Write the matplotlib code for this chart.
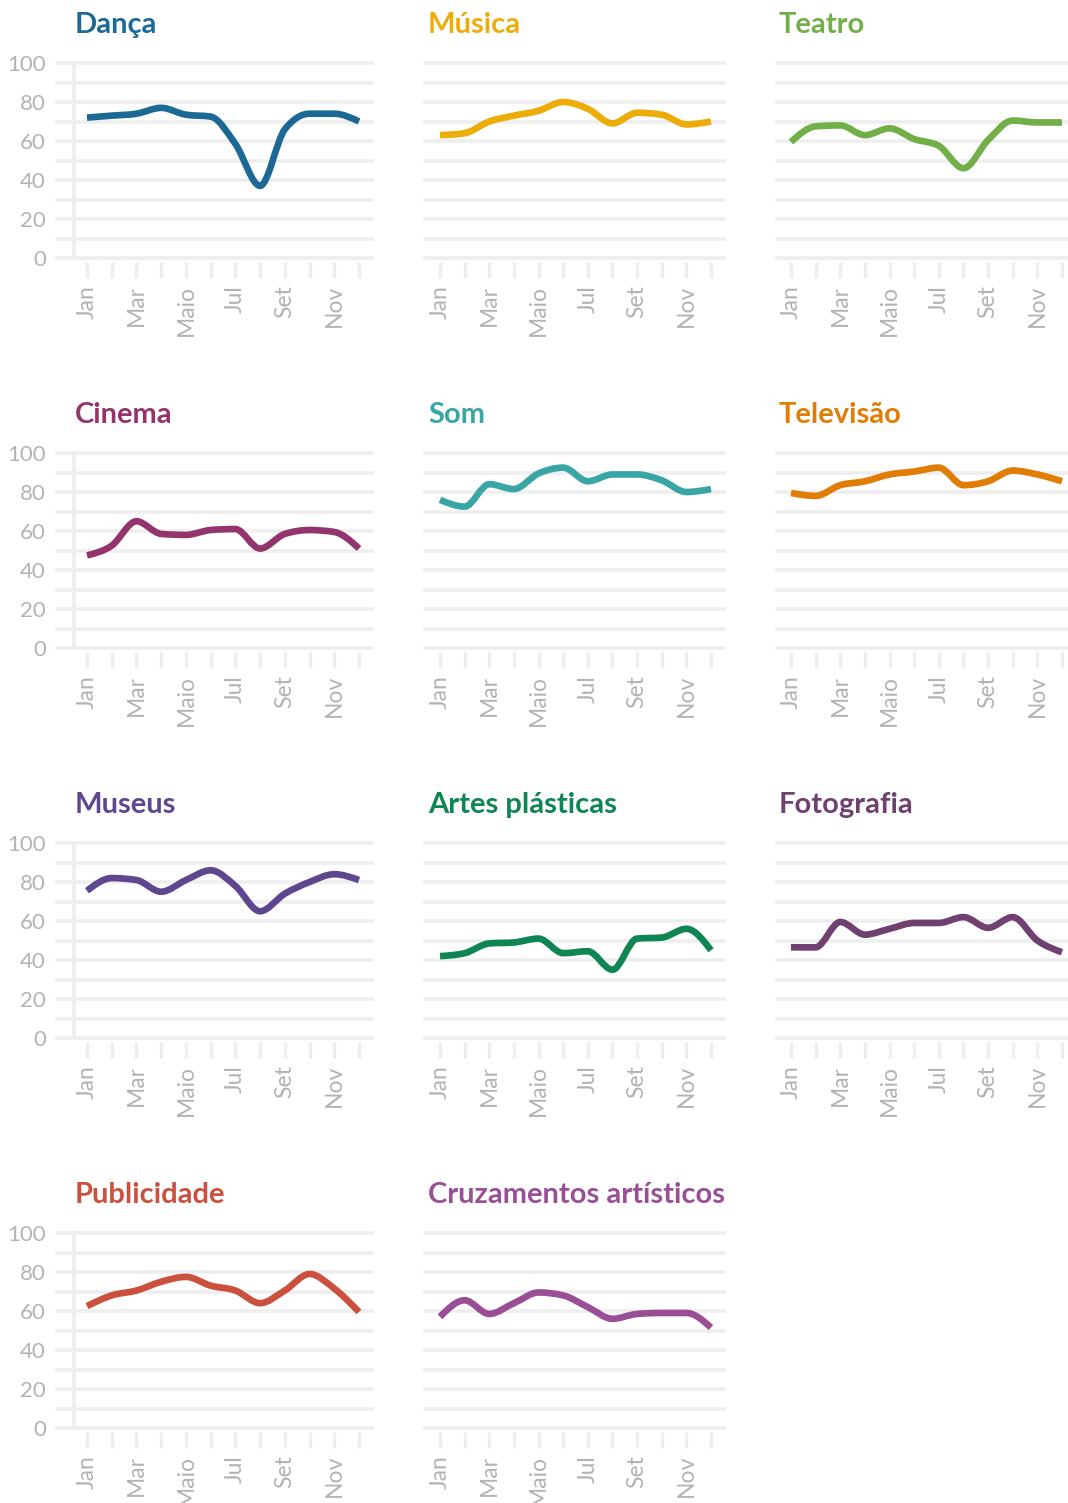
import numpy as np
import matplotlib
matplotlib.use("Agg")
import matplotlib.pyplot as plt
from matplotlib.path import Path
from matplotlib.patches import PathPatch

# dados: percentagem mensal por área
meses = ["Jan", "Fev", "Mar", "Abr", "Maio", "Jun", "Jul", "Ago", "Set", "Out", "Nov", "Dez"]
areas = ["Dança", "Música", "Teatro", "Cinema", "Som", "Televisão",
         "Museus", "Artes plásticas", "Fotografia", "Publicidade", "Cruzamentos artísticos"]
cores = ["#1D6996", "#EDAD08", "#73AF48", "#94346E", "#38A6A5", "#E17C05",
         "#5F4690", "#0F8554", "#6F4070", "#CC503E", "#994E95"]

danca = [72, 73, 74, 77, 73.5, 72.5, 58.5, 37, 66, 74, 74, 70]
musica = [63, 64, 70, 73, 75.5, 80, 76.5, 69, 74.5, 73.5, 68.5, 70]
teatro = [59.5, 67.5, 68, 63, 66.5, 61, 57.5, 46, 60.5, 70.5, 69.5, 69.5]
cinema = [47.5, 52.5, 65, 58.5, 58, 60.5, 61, 51, 58.5, 60.5, 59.5, 51]
som = [76, 72.5, 84, 81.5, 89.5, 92.5, 85.5, 89, 89, 86, 80, 81.5]
televisao = [79.5, 78, 83.5, 85.5, 89, 90.5, 92.5, 83.5, 85.5, 91, 89, 85.5]
museus = [75.5, 82, 81, 75, 81, 86, 78, 65, 74, 80, 84, 81]
artes = [42, 43.5, 48.5, 49, 51, 43.5, 44.5, 35, 51, 51.5, 56, 45]
fotografia = [46.5, 46.5, 59.5, 53, 56, 59, 59, 62, 56.5, 62, 50, 44]
publicidade = [62.5, 68, 70.5, 75, 77.5, 73, 70.5, 64, 70.5, 79, 71.5, 59.5]
cruzamentos = [57, 65.5, 58.5, 64, 69.5, 68, 62, 56, 58.5, 59, 59, 51.5]

series = [danca, musica, teatro, cinema, som, televisao,
          museus, artes, fotografia, publicidade, cruzamentos]

W, H = 1068, 1503
GRID = "#eeeeee"
TXT = "#b3b3b3"

# geometria das colunas em pixels: (esq, dir, jan, dez, x do título)
colunas = [(57, 372, 87, 359, 75), (425, 724, 440, 711, 428), (777, 1068, 791, 1062, 779)]


def curva_monotona(x, y):
    """Caminho bezier tipo monotoneX (passa pelos pontos)."""
    x = np.asarray(x, float)
    y = np.asarray(y, float)
    n = len(x)
    h = np.diff(x)
    s = np.diff(y) / h
    t = np.zeros(n)
    for i in range(1, n - 1):
        p = (s[i - 1] * h[i] + s[i] * h[i - 1]) / (h[i - 1] + h[i])
        t[i] = (np.sign(s[i - 1]) + np.sign(s[i])) * min(abs(s[i - 1]), abs(s[i]), 0.5 * abs(p))
    t[0] = (3 * s[0] - t[1]) / 2
    t[-1] = (3 * s[-1] - t[-2]) / 2
    verts = [(x[0], y[0])]
    codes = [Path.MOVETO]
    for i in range(n - 1):
        dx = h[i] / 3
        verts += [(x[i] + dx, y[i] + dx * t[i]), (x[i + 1] - dx, y[i + 1] - dx * t[i + 1]), (x[i + 1], y[i + 1])]
        codes += [Path.CURVE4] * 3
    return Path(verts, codes)


fig = plt.figure(figsize=(W / 100, H / 100), dpi=100)
plt.rcParams['font.family'] = ['Lato', 'DejaVu Sans']

xs = np.arange(12)
for k, (nome, cor, vals) in enumerate(zip(areas, cores, series)):
    lin, col = divmod(k, 3)
    esq, dir_, jan, dez, xt = colunas[col]
    topo = 63 + 390 * lin
    base = 258 + 390 * lin
    ax = fig.add_axes([esq / W, 1 - base / H, (dir_ - esq) / W, (base - topo) / H])
    passo = (dez - jan) / 11
    ax.set_xlim(-(jan - esq) / passo, 11 + (dir_ - dez) / passo)
    ax.set_ylim(0, 100)

    for v in range(0, 101, 10):
        ax.axhline(v, color=GRID, lw=2.6, zorder=1, clip_on=False)
    if col == 0:
        ax.plot([-(jan - 74) / passo] * 2, [0, 100], color=GRID, lw=2.6, zorder=1, clip_on=False)

    ax.add_patch(PathPatch(curva_monotona(xs, vals), facecolor="none", edgecolor=cor,
                           lw=4.8, capstyle="butt", joinstyle="round", zorder=3, clip_on=False))

    for lado in ["top", "right", "left"]:
        ax.spines[lado].set_visible(False)
    ax.spines["bottom"].set_position(("outward", 3))
    ax.spines["bottom"].set_visible(False)
    ax.set_xticks(xs)
    ax.set_xticklabels([m if i % 2 == 0 else "" for i, m in enumerate(meses)],
                       rotation=90, color=TXT, fontsize=16.5)
    ax.tick_params(axis="x", length=11.5, width=2.4, color=GRID, pad=5)
    if col == 0:
        ax.set_yticks(range(0, 101, 20))
        ax.set_yticklabels([str(v) for v in range(0, 101, 20)], color=TXT, fontsize=16)
        ax.tick_params(axis="y", length=0, pad=8)
    else:
        ax.set_yticks([])
    ax.patch.set_alpha(0)

    fig.text(xt / W, 1 - (33 + 390 * lin) / H, nome, color=cor, fontsize=21,
             fontweight="bold", ha="left", va="baseline")

fig.savefig("out.png", dpi=100)
